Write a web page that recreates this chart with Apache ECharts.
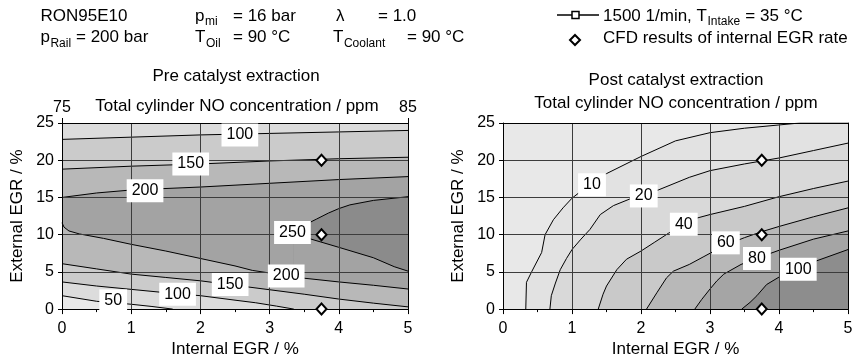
<!DOCTYPE html>
<html>
<head>
<meta charset="utf-8">
<script src="https://cdn.jsdelivr.net/npm/echarts/dist/echarts.min.js"></script>
<style>
html,body{margin:0;padding:0;background:#fff;}
#chart{width:863px;height:363px;}
</style>
</head>
<body>
<div id="chart"></div>
<script>
// ---- Axis ranges and ticks ----
const egrIntRange = [0, 5];      // Internal EGR / %
const egrExtRange = [0, 25];     // External EGR / %
const egrIntStep = 1;
const egrExtStep = 5;
const topConcRange = [75, 85];   // secondary top scale, pre catalyst

// ---- Pre catalyst extraction: NO iso-lines [internal EGR, external EGR] ----
const pre100Upper = [[0,22.8],[1,23.1],[2,23.4],[3,23.6],[4,23.8],[5,24.0]];
const pre150Upper = [[0,18.8],[1,19.2],[2,19.5],[3,19.9],[4,20.2],[5,20.4]];
const pre200Upper = [[0,15.0],[0.5,15.6],[1,16.0],[2,16.4],[3,16.9],[4,17.4],[5,17.8]];
const pre250Top   = [[3.35,10.4],[3.55,11.5],[3.68,12.1],[3.85,12.9],[4.0,13.5],[4.16,14.0],[4.5,14.6],[5,15.1]];
const pre250Bottom= [[3.35,10.4],[3.6,9.4],[4.0,8.3],[4.5,6.9],[4.8,5.7],[5,5.1]];
const pre200Lower = [[0,11.6],[0.03,11.0],[0.1,10.5],[0.25,10.1],[0.6,9.5],[1,8.7],[1.5,7.8],[2,6.8],[2.5,5.8],[2.75,5.2],[3.25,4.5],[3.5,4.15],[4,3.65],[4.5,3.2],[5,2.7]];
const pre150Lower = [[0,6.1],[0.5,5.4],[1,4.7],[1.5,4.25],[2,3.8],[2.5,3.2],[3,2.6],[3.5,2.0],[4,1.35],[4.5,0.8],[5,0.3]];
const pre100Lower = [[0,3.65],[0.5,3.1],[1,2.65],[1.5,2.2],[2,1.8],[2.5,1.2],[2.8,0.85],[3.1,0.4],[3.35,0]];
const pre50       = [[0,1.8],[0.5,1.05],[1,0.65],[1.3,0.35],[1.6,0]];
// iso-line labels [x, y, level]
const preLabels = [[2.57,23.4,100],[1.86,19.5,150],[1.2,15.9,200],[3.33,10.3,250],[3.24,4.45,200],[2.43,3.3,150],[1.67,2.0,100],[0.74,1.1,50]];

// ---- Post catalyst extraction: NO iso-lines ----
const post10  = [[0.33,0],[0.34,3.6],[0.42,5.1],[0.56,7.6],[0.61,10],[0.73,12],[0.87,13.6],[1.0,14.9],[1.25,16.7],[1.5,18.2],[2,20.5],[2.5,22.6],[3,23.7],[3.5,24.3],[4.3,25]];
const post20  = [[0.68,0],[0.7,1.8],[0.76,3.5],[0.83,5.3],[0.92,6.8],[1.0,8],[1.13,9.4],[1.26,10.7],[1.41,12.7],[1.6,13.9],[1.84,14.8],[2.25,16],[2.7,17.7],[3,18.6],[3.5,19.5],[4,20.3],[4.5,21.3],[5,22.3]];
const post40  = [[1.38,0],[1.45,2],[1.5,3.1],[1.65,5.3],[1.79,6.7],[2.0,7.8],[2.2,9.0],[2.4,10.2],[2.62,11.4],[2.8,12.2],[3,12.7],[3.5,13.8],[4,15.1],[4.5,16.2],[5,17.2]];
const post60  = [[2.08,0],[2.23,2.2],[2.37,4.2],[2.47,5.1],[2.7,6.0],[2.9,7.0],[3.2,8.5],[3.5,9.6],[3.75,10.4],[4,11.1],[4.5,12.4],[5,13.6]];
const post80  = [[2.78,0],[2.88,1.3],[3.0,2.7],[3.1,3.8],[3.2,4.7],[3.45,6.0],[3.7,6.9],[4.0,7.9],[4.5,9.4],[5,10.5]];
const post100 = [[3.46,0],[3.58,0.9],[3.68,1.8],[3.82,3.3],[4.0,4.3],[4.3,5.4],[4.55,6.5],[5,8.0]];
const postLabels = [[1.29,16.7,10],[2.04,15.2,20],[2.62,11.4,40],[3.23,8.9,60],[3.68,6.8,80],[4.28,5.35,100]];

// ---- CFD results of internal EGR rate ----
const cfdPoints = [[3.75,20],[3.75,10],[3.75,0]];

// ---- Styling ----
const FONT = '"Liberation Sans", Arial, Helvetica, sans-serif';
const GRID_LINE = '#3c3c3c';

// painter's order: each layer fills below its iso-line
const preBackground = '#dcdcdc';
const preLayers = [
  [pre100Upper, '#cbcbcb'],
  [pre150Upper, '#b8b8b8'],
  [pre200Upper, '#a3a3a3'],
  [pre250Top, '#8b8b8b'],
  [pre250Bottom, '#a3a3a3'],
  [pre200Lower, '#b8b8b8'],
  [pre150Lower, '#cbcbcb'],
  [pre100Lower, '#dcdcdc'],
  [pre50, '#e9e9e9']
];
const postBackground = '#e8e8e8';
const postLayers = [
  [post10, '#e2e2e2'],
  [post20, '#d9d9d9'],
  [post40, '#c9c9c9'],
  [post60, '#b8b8b8'],
  [post80, '#a5a5a5'],
  [post100, '#8d8d8d']
];

function closeToTop(pts) {
  // an iso-line leaving through the upper edge closes along it to the right edge
  const last = pts[pts.length - 1];
  if (last[1] >= egrExtRange[1] && last[0] < egrIntRange[1]) {
    return pts.concat([[egrIntRange[1], egrExtRange[1]]]);
  }
  return pts;
}

function layerSeries(layers, xi, yi) {
  return layers.map(([pts, fill]) => ({
    type: 'line', xAxisIndex: xi, yAxisIndex: yi,
    data: closeToTop(pts), symbol: 'none', smooth: false, silent: true,
    lineStyle: { color: '#000', width: 1 },
    areaStyle: { color: fill, opacity: 1, origin: 'start' },
    z: 2
  }));
}

function labelSeries(labels, xi, yi) {
  return {
    type: 'scatter', xAxisIndex: xi, yAxisIndex: yi, silent: true,
    data: labels, symbolSize: 0, z: 10, clip: false,
    itemStyle: { opacity: 1 },
    label: {
      show: true, position: 'inside', formatter: p => String(p.value[2]),
      backgroundColor: '#ffffff', opacity: 1, padding: [4, 5, 3, 5], color: '#000',
      fontSize: 16, fontFamily: FONT
    }
  };
}

function cfdSeries(xi, yi) {
  return {
    type: 'scatter', xAxisIndex: xi, yAxisIndex: yi, silent: true,
    data: cfdPoints, symbol: 'diamond', symbolSize: [10, 11], z: 11, clip: false,
    itemStyle: { color: '#fff', borderColor: '#000', borderWidth: 2, opacity: 1 }
  };
}

function bottomAxis(gi) {
  return {
    gridIndex: gi, type: 'value', position: 'bottom',
    min: egrIntRange[0], max: egrIntRange[1], interval: egrIntStep, z: 5,
    axisLine: { show: true, onZero: false, lineStyle: { color: '#000', width: 1 } },
    axisTick: { show: true, length: 5, lineStyle: { color: '#000' } },
    minorTick: { show: true, splitNumber: 2, length: 3, lineStyle: { color: '#000' } },
    axisLabel: { fontSize: 16, color: '#000', fontFamily: FONT, margin: 11 },
    splitLine: { show: true, lineStyle: { color: GRID_LINE, width: 1 } },
    name: 'Internal EGR / %', nameLocation: 'middle', nameGap: 31,
    nameTextStyle: { fontSize: 17, color: '#000', fontFamily: FONT }
  };
}
function leftAxis(gi) {
  return {
    gridIndex: gi, type: 'value', position: 'left',
    min: egrExtRange[0], max: egrExtRange[1], interval: egrExtStep, z: 5,
    axisLine: { show: true, onZero: false, lineStyle: { color: '#000', width: 1 } },
    axisTick: { show: true, length: 4, lineStyle: { color: '#000' } },
    axisLabel: { fontSize: 16, color: '#000', fontFamily: FONT, margin: 8 },
    splitLine: { show: true, lineStyle: { color: GRID_LINE, width: 1 } },
    name: 'External EGR / %', nameLocation: 'middle', nameGap: 36,
    nameTextStyle: { fontSize: 17, color: '#000', fontFamily: FONT }
  };
}
function rightFrame(gi) {
  return {
    gridIndex: gi, type: 'value', position: 'right',
    min: egrExtRange[0], max: egrExtRange[1], z: 5,
    axisLine: { show: true, onZero: false, lineStyle: { color: '#000', width: 1 } },
    axisTick: { show: false }, axisLabel: { show: false }, splitLine: { show: false }
  };
}

const option = {
  animation: false,
  backgroundColor: '#fff',
  grid: [
    { left: 62, right: 455, top: 123, bottom: 53, show: true, borderWidth: 0, backgroundColor: preBackground },
    { left: 503, right: 15, top: 123, bottom: 53, show: true, borderWidth: 0, backgroundColor: postBackground }
  ],
  xAxis: [
    bottomAxis(0),
    {
      gridIndex: 0, type: 'value', position: 'top',
      min: topConcRange[0], max: topConcRange[1], interval: topConcRange[1] - topConcRange[0], z: 5,
      axisLine: { show: true, onZero: false, lineStyle: { color: '#000', width: 1 } },
      axisTick: { show: true, length: 5, lineStyle: { color: '#000' } },
      axisLabel: { fontSize: 16, color: '#000', fontFamily: FONT, margin: 7 },
      splitLine: { show: false }
    },
    bottomAxis(1),
    {
      gridIndex: 1, type: 'value', position: 'top',
      min: egrIntRange[0], max: egrIntRange[1], z: 5,
      axisLine: { show: true, onZero: false, lineStyle: { color: '#000', width: 1 } },
      axisTick: { show: false }, axisLabel: { show: false }, splitLine: { show: false }
    }
  ],
  yAxis: [leftAxis(0), rightFrame(0), leftAxis(1), rightFrame(1)],
  series: [].concat(
    layerSeries(preLayers, 0, 0),
    [labelSeries(preLabels, 0, 0), cfdSeries(0, 0)],
    layerSeries(postLayers, 2, 2),
    [labelSeries(postLabels, 2, 2), cfdSeries(2, 2)]
  ),
  graphic: []
};

// ---- Header, legend and titles ----
const measure = document.createElement('canvas').getContext('2d');
function textWidth(s, size) { measure.font = size + 'px ' + FONT; return measure.measureText(s).width; }
function text(x, y, s, size, align) {
  return {
    type: 'text', silent: true, z: 20,
    style: { x: x, y: y, text: s, fontSize: size, fontFamily: FONT, fill: '#000',
      textAlign: align || 'left', align: align || 'left',
      textVerticalAlign: 'middle', verticalAlign: 'middle' }
  };
}
const SUB = 12;
function withSub(x, y, main, sub, size) {
  const w = textWidth(main, size);
  return [text(x, y, main, size), text(x + w + 0.5, y + 6, sub, SUB)];
}
const HS = 17;
const g = option.graphic;
g.push(text(40.5, 16, 'RON95E10', HS));
g.push(...withSub(40.5, 37.5, 'p', 'Rail', HS));
g.push(text(76, 37.5, '= 200 bar', HS));
g.push(...withSub(195, 16, 'p', 'mi', HS));
g.push(text(233, 16, '= 16 bar', HS));
g.push(...withSub(195, 37.5, 'T', 'Oil', HS));
g.push(text(233, 37.5, '= 90 °C', HS));
g.push(text(336, 16, 'λ', HS));
g.push(text(378, 16, '= 1.0', HS));
g.push(...withSub(333, 37.5, 'T', 'Coolant', HS));
g.push(text(407, 37.5, '= 90 °C', HS));

// legend
g.push({ type: 'line', silent: true, z: 20, shape: { x1: 557, y1: 15, x2: 599, y2: 15 }, style: { stroke: '#000', lineWidth: 1.5 } });
g.push({ type: 'rect', silent: true, z: 21, shape: { x: 572, y: 11.5, width: 7, height: 7 }, style: { fill: '#fff', stroke: '#000', lineWidth: 1.5 } });
const legendMain = '1500 1/min, T';
g.push(...withSub(603, 16, legendMain, 'Intake', HS));
g.push(text(603 + textWidth(legendMain, HS) + textWidth('Intake', SUB) + 1, 16, ' = 35 °C', HS));
g.push({ type: 'polygon', silent: true, z: 21, shape: { points: [[575, 35], [580, 40], [575, 45], [570, 40]] }, style: { fill: '#fff', stroke: '#000', lineWidth: 2 } });
g.push(text(603, 38, 'CFD results of internal EGR rate', HS));

// titles
g.push(text(236, 76, 'Pre catalyst extraction', HS, 'center'));
g.push(text(237, 106, 'Total cylinder NO concentration / ppm', HS, 'center'));
g.push(text(676, 80, 'Post catalyst extraction', HS, 'center'));
g.push(text(676, 103, 'Total cylinder NO concentration / ppm', HS, 'center'));

const chart = echarts.init(document.getElementById('chart'), null, { renderer: 'canvas' });
chart.setOption(option);
</script>
</body>
</html>
